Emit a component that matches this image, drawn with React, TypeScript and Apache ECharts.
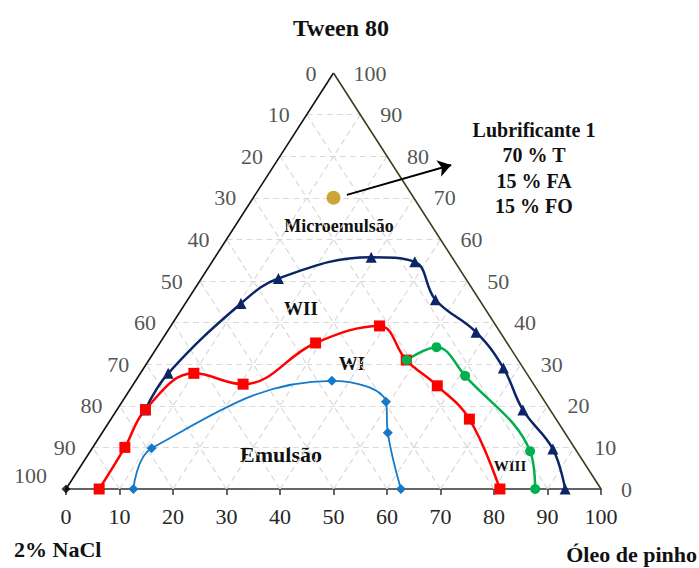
import React, { useEffect, useRef } from "react";
import * as echarts from "echarts";

// Axis ticks
const tickValues = [0, 10, 20, 30, 40, 50, 60, 70, 80, 90, 100];
const gridLevels = [10, 20, 30, 40, 50, 60, 70, 80, 90];

// Boundaries: Óleo de pinho (%) and Tween 80 (%) of each point
const wiiOleo = [93.3, 86.2, 75.9, 67.2, 57.8, 46.3, 37.9, 29.2, 14.4, 10.4, 5.2, 5.3];
const wiiTween = [0, 9.6, 19.0, 29.1, 37.7, 45.5, 54.6, 55.7, 50.6, 44.6, 27.8, 19.0];

const wiOleo = [81.1, 67.0, 57.0, 48.1, 39.0, 29.1, 20.5, 10.0, 5.3, 6.0, 6.2];
const wiTween = [0, 16.8, 24.8, 31.0, 39.2, 35.1, 25.2, 27.8, 19.1, 10.0, 0];

const emulOleo = [12.6, 11.1, 36.7, 49.3, 53.4, 62.6];
const emulTween = [0, 9.8, 26.0, 21.0, 13.5, 0];

const wiiiOleo = [48.2, 52.2, 61.0, 82.2, 87.7];
const wiiiTween = [31.0, 34.1, 27.2, 9.1, 0];

const lubOleo = [15];
const lubTween = [70];

const FONT = "Liberation Serif";

const toXY = (o: number, t: number) => [o + t / 2, t];
const pts = (o: number[], t: number[]) => o.map((v, i) => toXY(v, t[i]));

export default function App() {
  const ref = useRef<HTMLDivElement>(null);

  useEffect(() => {
    if (!ref.current) return;
    const chart = echarts.init(ref.current, null, { renderer: "svg" });

    const gridData: any[] = [];
    gridLevels.forEach((k) => {
      // horizontal (constant Tween)
      gridData.push({ coords: [toXY(0, k), toXY(100 - k, k)] });
      // constant Óleo (parallel to left edge)
      gridData.push({ coords: [toXY(k, 0), toXY(k, 100 - k)] });
      // constant NaCl (parallel to right edge)
      gridData.push({ coords: [toXY(100 - k, 0), toXY(0, 100 - k)] });
    });

    const mkLine = (name: string, o: number[], t: number[], color: string, symbol: string, size: number, width: number) => ({
      name,
      type: "line",
      data: pts(o, t),
      smooth: 0.4,
      clip: false,
      symbol,
      symbolSize: size,
      showAllSymbol: true,
      lineStyle: { color, width },
      itemStyle: { color },
      z: 5,
    });

    const leftLabels = tickValues.map((y) => ({
      value: [y / 2, y, 100 - y],
      label: y === 0 ? { offset: [-2, -14] } : undefined,
    }));
    const rightLabels = tickValues.map((y) => ({ value: [100 - y / 2, y, y] }));

    const tickLabelStyle = {
      show: true,
      fontFamily: FONT,
      fontSize: 22,
      color: "#262626",
      formatter: (p: any) => String(p.value[2]),
    };

    const bold = (text: string, x: number, y: number, size: number, align = "center") => ({
      type: "text",
      x,
      y,
      style: {
        text,
        fontFamily: FONT,
        fontWeight: "bold",
        fontSize: size,
        fill: "#111",
        align,
        verticalAlign: "middle",
      },
    });

    chart.setOption({
      animation: false,
      grid: { left: 66, top: 73, width: 535, height: 416 },
      xAxis: {
        type: "value",
        min: 0,
        max: 100,
        interval: 10,
        axisLine: { show: true, lineStyle: { color: "#333", width: 1.5 } },
        axisTick: { show: true, inside: false, length: 6, lineStyle: { color: "#333", width: 1.5 } },
        axisLabel: { fontFamily: FONT, fontSize: 22, color: "#262626", margin: 16 },
        splitLine: { show: false },
      },
      yAxis: {
        type: "value",
        min: 0,
        max: 100,
        show: false,
        splitLine: { show: false },
      },
      graphic: [
        bold("Tween 80", 341, 28, 24),
        bold("Lubrificante 1", 534, 130, 20),
        bold("70 % T", 534, 155, 20),
        bold("15 % FA", 534, 181, 20),
        bold("15 % FO", 534, 206, 20),
        bold("Microemulsão", 339, 226, 18),
        bold("WII", 301, 308, 19),
        bold("WI", 352, 363, 19),
        bold("Emulsão", 281, 454, 22),
        bold("WIII", 510, 466, 15),
        bold("2% NaCl", 14, 549, 22, "left"),
        bold("Óleo de pinho", 697, 554, 22, "right"),
      ],
      series: [
        {
          type: "lines",
          coordinateSystem: "cartesian2d",
          silent: true,
          data: gridData,
          lineStyle: { color: "#d9d9d9", width: 1.2, type: [6, 4], opacity: 1 },
          z: 1,
        },
        {
          type: "lines",
          coordinateSystem: "cartesian2d",
          silent: true,
          data: [{ coords: [toXY(0, 0), toXY(0, 100)] }],
          lineStyle: { color: "#111", width: 1.6, opacity: 1 },
          z: 2,
        },
        {
          type: "lines",
          coordinateSystem: "cartesian2d",
          silent: true,
          data: [{ coords: [toXY(0, 100), toXY(100, 0)] }],
          lineStyle: { color: "#3d3b1c", width: 1.6, opacity: 1 },
          z: 2,
        },
        {
          type: "scatter",
          data: leftLabels,
          symbolSize: 0,
          silent: true,
          label: { ...tickLabelStyle, position: "left", distance: 17 },
        },
        {
          type: "scatter",
          data: rightLabels,
          symbolSize: 0,
          silent: true,
          label: { ...tickLabelStyle, position: "right", distance: 20 },
        },
        mkLine("WII", wiiOleo, wiiTween, "#0b2566", "triangle", 11, 2.5),
        mkLine("WI", wiOleo, wiTween, "#ff0000", "rect", 11, 2.5),
        mkLine("Emulsão", emulOleo, emulTween, "#1479c9", "diamond", 10, 1.8),
        mkLine("WIII", wiiiOleo, wiiiTween, "#00b050", "circle", 10, 2.5),
        {
          type: "scatter",
          data: [toXY(0, 0)],
          symbol: "diamond",
          symbolSize: 9,
          itemStyle: { color: "#000" },
          clip: false,
          z: 6,
        },
        {
          type: "lines",
          coordinateSystem: "cartesian2d",
          silent: true,
          data: [{ coords: [[52.5, 70.7], [72.0, 77.9]] }],
          symbol: ["none", "arrow"],
          symbolSize: 13,
          lineStyle: { color: "#000", width: 2, opacity: 1 },
          z: 6,
        },
        {
          type: "scatter",
          data: pts(lubOleo, lubTween),
          symbol: "circle",
          symbolSize: 14,
          itemStyle: { color: "#c0900a" },
          z: 7,
        },
      ],
    });

    return () => chart.dispose();
  }, []);

  return <div ref={ref} style={{ position: "absolute", left: 0, top: 0, width: 699, height: 568 }} />;
}
